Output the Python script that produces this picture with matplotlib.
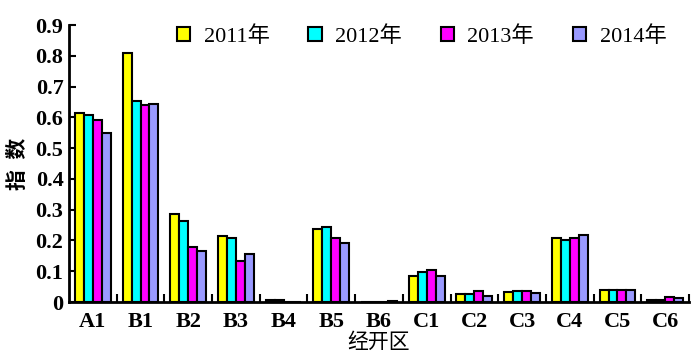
import matplotlib
matplotlib.use("Agg")
import matplotlib.pyplot as plt
import numpy as np

plt.rcParams['font.family'] = ['Liberation Serif', 'Noto Sans CJK SC']

zones = ["A1", "B1", "B2", "B3", "B4", "B5", "B6", "C1", "C2", "C3", "C4", "C5", "C6"]
years = ["2011年", "2012年", "2013年", "2014年"]
v2011 = [0.613, 0.81, 0.285, 0.213, 0.006, 0.237, 0.0, 0.083, 0.027, 0.033, 0.208, 0.038, 0.006]
v2012 = [0.608, 0.652, 0.264, 0.209, 0.006, 0.245, 0.0, 0.096, 0.027, 0.036, 0.200, 0.038, 0.006]
v2013 = [0.590, 0.639, 0.178, 0.132, 0.0, 0.208, 0.0, 0.105, 0.037, 0.036, 0.208, 0.038, 0.015]
v2014 = [0.550, 0.644, 0.165, 0.156, 0.0, 0.193, 0.003, 0.083, 0.019, 0.029, 0.218, 0.038, 0.012]
colors = ["#FFFF00", "#00FFFF", "#FF00FF", "#9999FF"]

fig = plt.figure(figsize=(6.97, 3.63), dpi=100)
ax = fig.add_axes([0.099, 0.168, 0.8895, 0.763])

x = np.arange(len(zones))
w = 0.1875
for i, vals in enumerate([v2011, v2012, v2013, v2014]):
    ax.bar(x + (i - 1.5) * w, vals, w, color=colors[i], edgecolor='black',
           linewidth=1.5, label=years[i])

ax.set_xlim(-0.5, 12.5)
ax.set_ylim(0, 0.9)
ax.set_yticks(np.arange(0, 0.91, 0.1))
ax.set_yticklabels(["0"] + ["%.1f" % v for v in np.arange(0.1, 0.91, 0.1)],
                   fontsize=16, fontweight='bold')
ax.set_xticks(x)
ax.set_xticklabels(zones, fontsize=16, fontweight='bold')
ax.set_xticks(np.arange(0.5, 12.6, 1), minor=True)
ax.tick_params(axis='x', which='major', length=0, pad=7)
ax.tick_params(axis='x', which='minor', direction='in', length=6, width=1.5)
ax.tick_params(axis='y', direction='in', length=5, width=1.5, pad=4)

for s in ['top', 'right']:
    ax.spines[s].set_visible(False)
for s in ['left', 'bottom']:
    ax.spines[s].set_linewidth(2)

ax.set_xlabel("经开区", fontsize=15, labelpad=1)
ax.set_ylabel("指  数", fontsize=15, labelpad=5, fontweight='bold')

fig.legend(loc='center', bbox_to_anchor=(0.605, 0.90), ncol=4, frameon=False,
           fontsize=16, handlelength=0.6, handleheight=0.6, handletextpad=0.6,
           columnspacing=1.75)

fig.savefig("out.png", dpi=100)
